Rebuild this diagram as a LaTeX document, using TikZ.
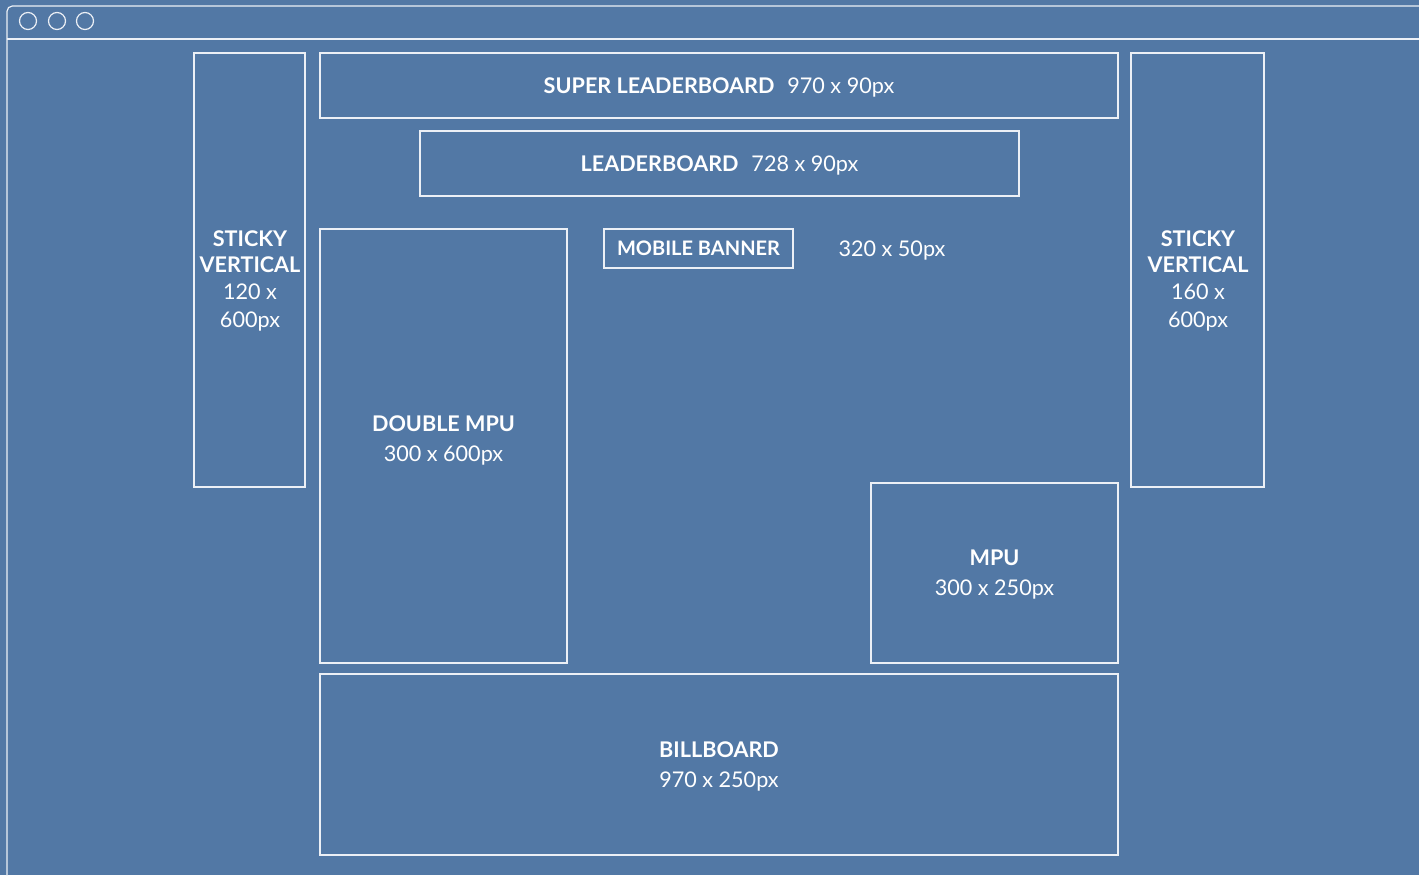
\documentclass[tikz,border=0pt]{standalone}
\usepackage{fontspec}
\setmainfont{Lato}
\usepackage{tikz}
\usetikzlibrary{positioning}

\definecolor{pagebg}{RGB}{82,120,165}
\definecolor{lineclr}{RGB}{236,240,246}

\tikzset{
  adbox/.style={draw=lineclr, line width=0.9pt, inner sep=0pt, align=center,
    text=white, text depth=0pt, font=\fontsize{16.2}{19}\selectfont},
  adtext/.style={inner sep=0.75pt, text=white, align=center,
    font=\fontsize{16.2}{19}\selectfont},
}

\begin{document}
\begin{tikzpicture}[x=0.75pt,y=0.75pt,yscale=-1,xscale=1]
\useasboundingbox (0,0) rectangle (1419,875);
\fill[pagebg] (0,0) rectangle (1419,875);

%Browser window
\draw[lineclr, line width=0.9pt, rounded corners=4pt] (7,890) -- (7,6) -- (1430,6);
\draw[lineclr, line width=0.9pt] (7,39) -- (1430,39);
\draw[lineclr, line width=0.9pt] (28,21) circle (8.5) (57,21) circle (8.5) (85,21) circle (8.5);

%Shape: Rectangle -- sticky left
\node[adbox, minimum width=0.75*111pt, minimum height=0.75*434pt] (stickyL) at (249.5,270) {};
\node[adtext] (stickyLtxt) at (250,281) {\textbf{STICKY}\\ \textbf{VERTICAL}\\[1.5pt] 120 x\\[2pt] 600px};

%Shape: Rectangle -- super leaderboard
\node[adbox, minimum width=0.75*798pt, minimum height=0.75*65pt] (superlb) at (719,85.5)
  {\textbf{SUPER LEADERBOARD}\hspace{0.6em}970 x 90px};

%Shape: Rectangle -- leaderboard
\node[adbox, minimum width=0.75*599pt, minimum height=0.75*65pt] (leaderb) at (719.5,163.5)
  {\textbf{LEADERBOARD}\hspace{0.6em}728 x 90px};

%Shape: Rectangle -- double mpu
\node[adbox, minimum width=0.75*247pt, minimum height=0.75*434pt] (dblmpu) at (443.5,446) {};
\node[adtext] (dblmputxt) at (443.5,440) {\textbf{DOUBLE MPU}\\[3.5pt] 300 x 600px};

%Shape: Rectangle -- mobile banner
\node[adbox, minimum width=0.75*189pt, minimum height=0.75*39pt, font=\fontsize{15}{18}\selectfont] (mobban) at (698.5,248.5)
  {\textbf{MOBILE BANNER}};
% Text Node
\node[adtext, text depth=0pt] (mobdim) at (892,249) {320 x 50px};

%Shape: Rectangle -- sticky right
\node[adbox, minimum width=0.75*133pt, minimum height=0.75*434pt] (stickyR) at (1197.5,270) {};
\node[adtext] (stickyRtxt) at (1198,281) {\textbf{STICKY}\\ \textbf{VERTICAL}\\[1.5pt] 160 x\\[2pt] 600px};

%Shape: Rectangle -- mpu
\node[adbox, minimum width=0.75*247pt, minimum height=0.75*180pt] (mpu) at (994.5,573)
  {\textbf{MPU}\\[3.5pt] 300 x 250px};

%Shape: Rectangle -- billboard
\node[adbox, minimum width=0.75*798pt, minimum height=0.75*181pt] (billb) at (719,764.5)
  {\textbf{BILLBOARD}\\[3.5pt] 970 x 250px};

\end{tikzpicture}
\end{document}
